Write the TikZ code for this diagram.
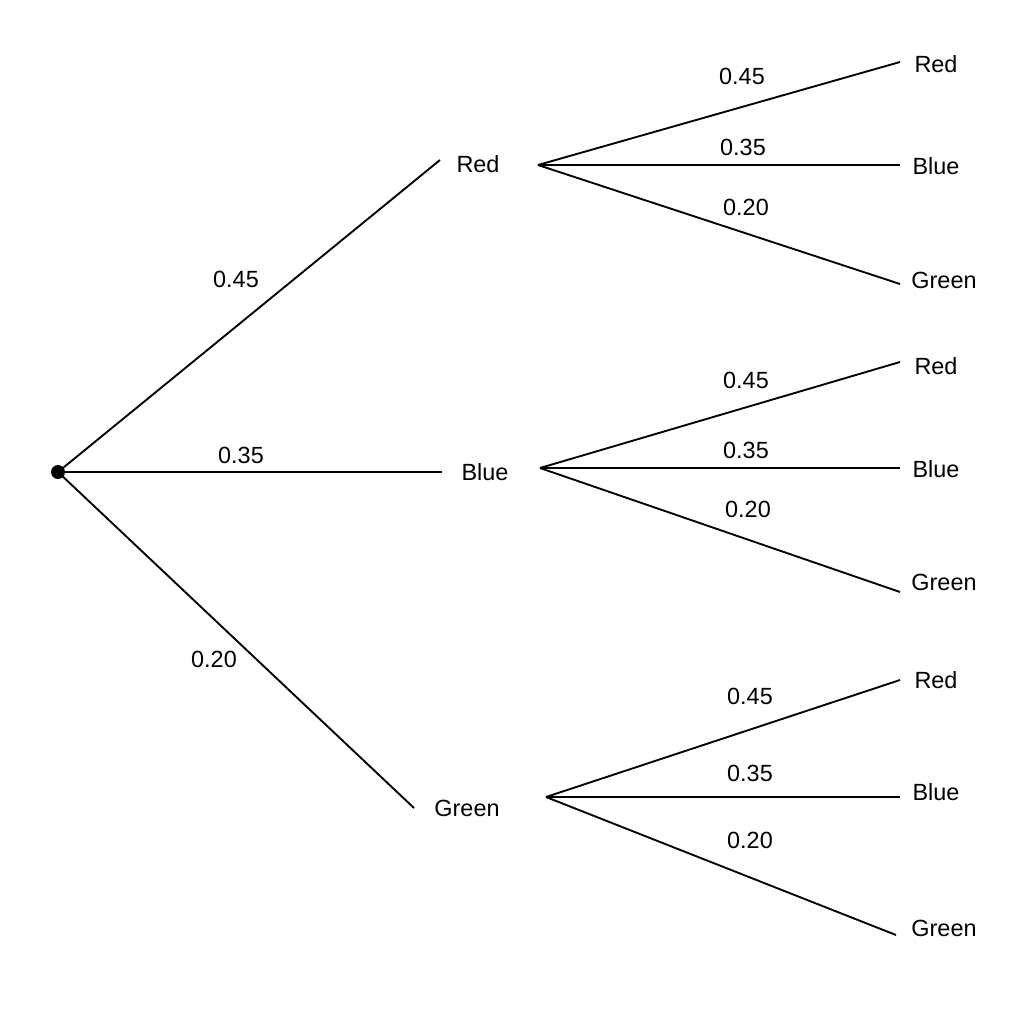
\documentclass[tikz,border=0pt]{standalone}
\usepackage{fontspec}
\setmainfont{Liberation Sans}
\begin{document}
\begin{tikzpicture}[x=0.03cm,y=-0.03cm,
  lab/.style={font=\fontsize{20}{22}\selectfont,inner sep=0pt},
  br/.style={line width=1.6pt}]
\useasboundingbox (0,0) rectangle (1024,1024);
\fill (58,472) circle (7);
\coordinate (root) at (58,472);
% level 1
\coordinate (r1) at (440,160); \node[lab] (R) at (478,164) {Red};
\coordinate (b1) at (442,472); \node[lab] (B) at (485,472) {Blue};
\coordinate (g1) at (414,808); \node[lab] (G) at (467,808) {Green};
\draw[br] (root) -- (r1); \draw[br] (root) -- (b1); \draw[br] (root) -- (g1);
\node[lab] at (236,279) {0.45};
\node[lab] at (241,455) {0.35};
\node[lab] at (214,659) {0.20};
% Red branch
\coordinate (rs) at (538,165);
\coordinate (rr) at (900,62); \node[lab] (RR) at (936,64) {Red};
\coordinate (rb) at (900,165); \node[lab] (RB) at (936,166) {Blue};
\coordinate (rg) at (900,284); \node[lab] (RG) at (944,280) {Green};
\draw[br] (rs) -- (rr); \draw[br] (rs) -- (rb); \draw[br] (rs) -- (rg);
\node[lab] at (742,76) {0.45};
\node[lab] at (743,147) {0.35};
\node[lab] at (746,207) {0.20};
% Blue branch
\coordinate (bs) at (540,468);
\coordinate (br) at (900,362); \node[lab] (BR) at (936,366) {Red};
\coordinate (bb) at (900,468); \node[lab] (BB) at (936,469) {Blue};
\coordinate (bg) at (900,592); \node[lab] (BG) at (944,582) {Green};
\draw[br] (bs) -- (br); \draw[br] (bs) -- (bb); \draw[br] (bs) -- (bg);
\node[lab] at (746,380) {0.45};
\node[lab] at (746,450) {0.35};
\node[lab] at (748,509) {0.20};
% Green branch
\coordinate (gs) at (546,797);
\coordinate (gr) at (900,680); \node[lab] (GR) at (936,680) {Red};
\coordinate (gb) at (900,797); \node[lab] (GB) at (936,792) {Blue};
\coordinate (gg) at (896,935); \node[lab] (GG) at (944,928) {Green};
\draw[br] (gs) -- (gr); \draw[br] (gs) -- (gb); \draw[br] (gs) -- (gg);
\node[lab] at (750,696) {0.45};
\node[lab] at (750,773) {0.35};
\node[lab] at (750,840) {0.20};
\end{tikzpicture}
\end{document}
